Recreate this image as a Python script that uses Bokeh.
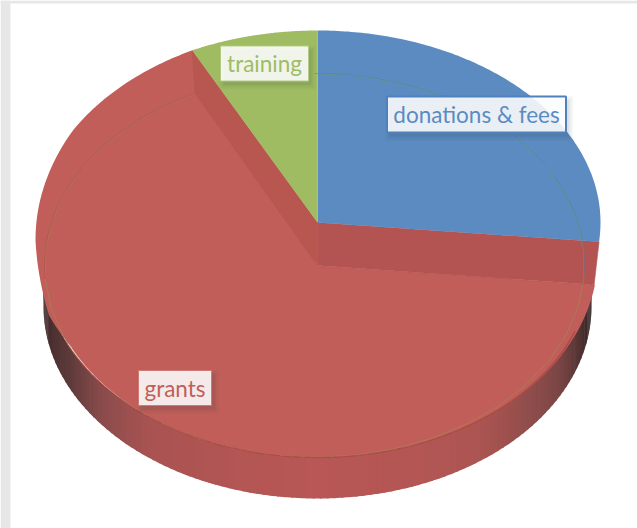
import numpy as np
from bokeh.plotting import figure
from bokeh.models import Range1d
from bokeh.core.properties import value
from bokeh.embed import file_html
from bokeh.resources import INLINE

# --- data ---
categories = ["donations & fees", "grants", "training"]
shares = [26.6, 66.1, 7.3]
slice_colors = ["#5B8BC1", "#C25E59", "#9FBC62"]
text_colors = ["#5B8BC1", "#C25E59", "#9FBC62"]
label_centers_x = [476, 174.5, 264]
label_centers_y = [114, 387.5, 63]
label_widths = [179, 73, 88]
label_heights = [36, 35, 35]
label_border = [2, 1, 1]
label_border_colors = ["#4F81BD", "#D07A75", "#B5CC85"]

W, H = 637, 528
p = figure(width=W, height=H, output_backend="svg", toolbar_location=None,
           x_range=Range1d(0, W), y_range=Range1d(H, 0),
           x_axis_type=None, y_axis_type=None, min_border=0,
           outline_line_color=None,
           background_fill_color="#FFFFFF", border_fill_color="#FFFFFF")
p.grid.visible = False

# page strips of the screenshot
p.quad(left=[0, 0], right=[10, W], top=[0, 0], bottom=[H, 3], fill_color="#E7E7E7", line_color=None)

CX, CY_BACK, RX_BACK, RY = 317, 222, 283, 192
CY_FACE, RX_WALL, DROP = 265, 274, 41
CX_RING, RX_RING = 314, 270


def arc(cx, cy, rx, ry, t0, t1, n=140):
    t = np.radians(np.linspace(t0, t1, n))
    return cx + rx * np.cos(t), cy - ry * np.sin(t)


def mix(stops, t):
    xs = [s[0] for s in stops]
    chan = [np.interp(t, xs, [int(s[1][i:i + 2], 16) for s in stops]) for i in (1, 3, 5)]
    return "#%02x%02x%02x" % tuple(int(round(c)) for c in chan)


# angles of the slices, clockwise from the top
bounds = 90 - np.cumsum([0] + shares) * 360 / sum(shares)
a_blue = (bounds[0], bounds[1])
a_red = (bounds[1], bounds[2])
a_green = (bounds[2], bounds[3])

# outer wall of the raised slice, shaded strip by strip
wall_stops = [(176, "#2A1C1C"), (195, "#4D3030"), (205, "#5C3A3A"), (218, "#8A4B4B"),
              (232, "#A85352"), (256, "#B45654"), (270, "#B85755"), (292, "#B35654"),
              (306, "#AC5552"), (321, "#8F4D4B"), (332, "#7A4545"), (350, "#3A2828"),
              (362, "#1C1414")]
t_edges = np.linspace(176, 362, 125)
xs, ys, cs = [], [], []
for i in range(len(t_edges) - 1):
    x0, y0 = arc(CX, CY_FACE, RX_WALL, RY, t_edges[i], t_edges[i + 1] + 0.4, 4)
    x1, y1 = arc(CX, CY_FACE + DROP, RX_WALL, RY, t_edges[i + 1] + 0.4, t_edges[i], 4)
    xs.append(np.r_[x0, x1])
    ys.append(np.r_[y0, y1])
    cs.append(mix(wall_stops, (t_edges[i] + t_edges[i + 1]) / 2))
p.patches(xs, ys, fill_color=cs, line_color=None)

# red slice: outline runs from the back rim round to the front face
t = np.linspace(a_red[1] + 360, 360 + a_red[0], 400)
cy_t = np.interp(t, [116, 150, 180, 195, 360], [CY_BACK, 226, 240, CY_FACE, CY_FACE])
rx_t = np.interp(t, [116, 180, 195, 205, 335, 350, 355],
                 [RX_BACK, 282, 278, 272, 276, 278, 279])
tr = np.radians(t)
fx = CX + rx_t * np.cos(tr)
fy = cy_t - RY * np.sin(tr)
p.patch(np.r_[CX, fx], np.r_[CY_FACE, fy], fill_color=slice_colors[1], line_color=None)

# inner cut walls of the raised slice
left_t = np.radians(a_red[1])
right_t = np.radians(a_red[0])
lx_b, ly_b = CX + RX_BACK * np.cos(left_t), CY_BACK - RY * np.sin(left_t)
lx_f, ly_f = CX_RING + RX_RING * np.cos(left_t), CY_FACE - RY * np.sin(left_t)
rx_b, ry_b = CX + RX_BACK * np.cos(right_t), CY_BACK - RY * np.sin(right_t)
rx_f, ry_f = CX + 278 * np.cos(right_t), CY_FACE - RY * np.sin(right_t)
p.patch([lx_b, CX, CX, lx_f], [ly_b, CY_BACK, CY_FACE, ly_f],
        fill_color="#B85650", line_color="#B85650", line_width=0.6)
p.patch([rx_b, CX, CX, rx_f], [ry_b, CY_BACK, CY_FACE, ry_f],
        fill_color="#B45452", line_color="#B45452", line_width=0.6)

# flat slices
for (a, c) in ((a_blue, slice_colors[0]), (a_green, slice_colors[2])):
    sx, sy = arc(CX, CY_BACK, RX_BACK, RY, a[0], a[1])
    p.patch(np.r_[CX, sx], np.r_[CY_BACK, sy], fill_color=c, line_color=None)

# faint bevel ring, seen through the slices
ex, ey = arc(CX_RING, CY_FACE, RX_RING, RY, 90, a_blue[1] + 2, 120)
p.line(ex, ey, line_color="#3F6FAE", line_alpha=0.35, line_width=1)
ex, ey = arc(CX_RING, CY_FACE, RX_RING, RY, a_red[1], 90, 40)
p.line(ex, ey, line_color="#86A54F", line_alpha=0.4, line_width=1)
ex, ey = arc(CX_RING, CY_FACE, RX_RING, RY, a_red[1] + 360, 360 - 176, 120)
p.line(ex, ey, line_color="#AE4F4B", line_alpha=0.55, line_width=1)
ex, ey = arc(CX, CY_FACE, RX_WALL, RY, 203, 340, 200)
p.line(ex, ey, line_color="#A84340", line_alpha=0.85, line_width=1.2)

# labels
for i, name in enumerate(categories):
    x, y, w, h = label_centers_x[i], label_centers_y[i], label_widths[i], label_heights[i]
    for grow, alpha in ((9, 0.03), (6, 0.03), (3, 0.04), (0, 0.05)):
        p.rect([x + 3], [y + 4], width=w + grow, height=h + grow,
               fill_color="#203040", fill_alpha=alpha, line_color=None)
    p.rect([x], [y], width=w, height=h, fill_color="#FFFFFF", fill_alpha=0.88,
           line_color=label_border_colors[i], line_width=label_border[i])
    p.text([x], [y], text=[name], text_font=value("Lato"), text_font_size="22.5px",
           text_color=text_colors[i], text_align="center", text_baseline="middle")

open("out.html", "w").write(file_html(p, INLINE))
